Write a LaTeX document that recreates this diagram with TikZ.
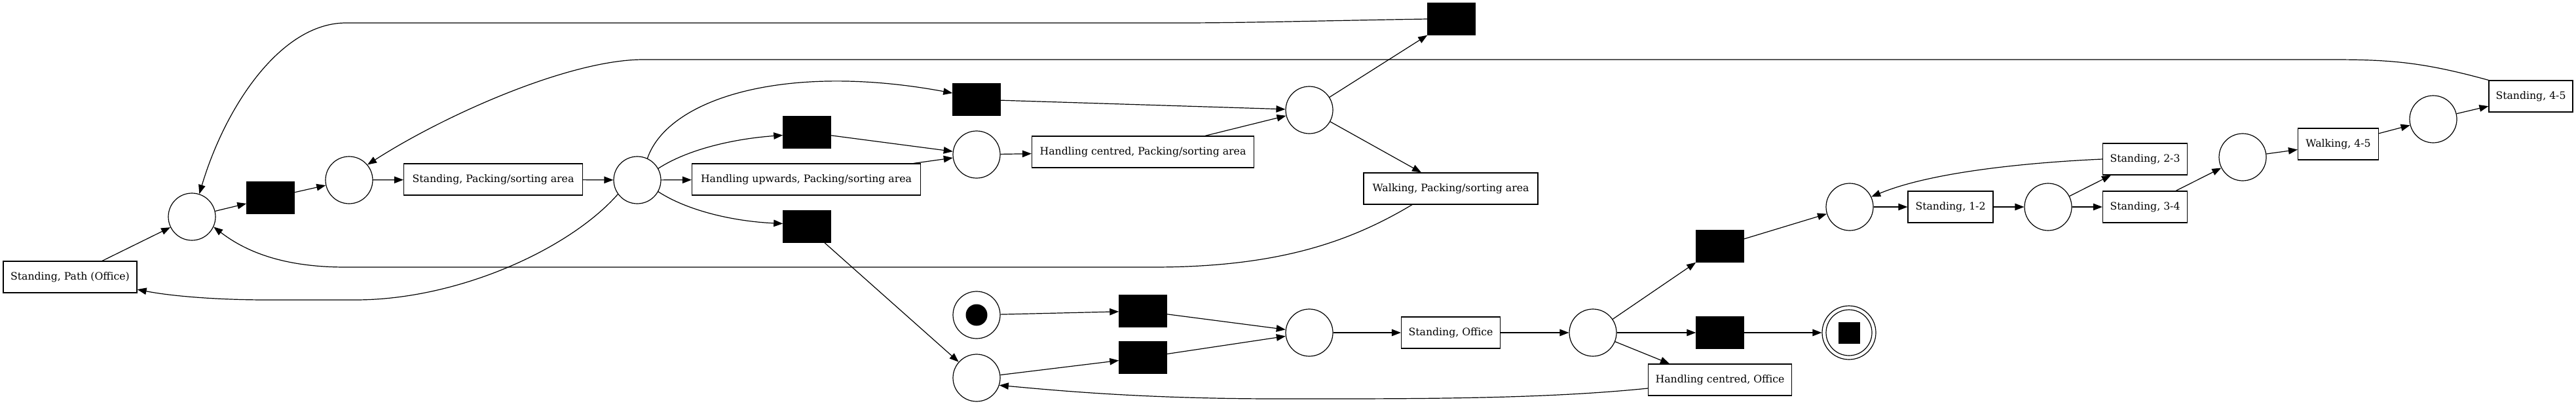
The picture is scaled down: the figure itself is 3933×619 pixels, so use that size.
\documentclass[tikz,border=0pt]{standalone}
\usepackage{fontspec}
\setmainfont{DejaVu Serif}
\usetikzlibrary{arrows.meta}
\begin{document}
\begin{tikzpicture}[x=1pt,y=-1pt,
  every path/.style={line width=1.2pt},
  place/.style={circle, draw, line width=1.2pt, minimum size=72pt, inner sep=0pt},
  trans/.style={rectangle, fill=black, draw=black, line width=0.5pt, minimum width=73pt, minimum height=49pt, inner sep=0pt},
  act/.style={rectangle, draw, line width=1.2pt, minimum height=48pt, inner xsep=9pt, inner ysep=0pt, font=\fontsize{15.7}{18}\selectfont},
  arr/.style={-{Triangle[length=14pt,width=10.5pt]}, line width=1.2pt}]
\useasboundingbox (0,0) rectangle (3933,619);
\fill[white] (0,0) rectangle (3933,619);
% places
\node[place] (P1) at (293,331) {};
\node[place] (P2) at (533,275) {};
\node[place] (P3) at (973,275) {};
\node[place] (P4) at (1491,236) {};
\node[place] (P5) at (1999,168) {};
\node[place] (Pi) at (1491,481) {};
\node[circle, fill=black, minimum size=33pt, inner sep=0pt] (tok) at (Pi) {};
\node[place] (P6) at (1491,577) {};
\node[place] (P7) at (1999,508) {};
\node[place] (P9) at (2432,508) {};
\node[place, minimum size=82pt] (Pf) at (2823,508) {};
\node[circle, draw, line width=1.2pt, minimum size=70pt, inner sep=0pt] (Pfi) at (Pf) {};
\node[rectangle, fill=black, minimum size=33pt, inner sep=0pt] (Pfs) at (Pf) {};
\node[place] (P8) at (2824,316) {};
\node[place] (P10) at (3127,316) {};
\node[place] (P11) at (3424,240) {};
\node[place] (P12) at (3715,182) {};
% silent transitions
\node[trans] (T1) at (413,302) {};
\node[trans] (Ta) at (1491,152) {};
\node[trans] (Tb) at (1232,202) {};
\node[trans] (Tc) at (1232,346) {};
\node[trans] (Tt) at (2216,29) {};
\node[trans] (Td) at (1745,475) {};
\node[trans] (Te) at (1745,546) {};
\node[trans] (Tf) at (2626,376) {};
\node[trans] (Tg) at (2626,508) {};
% labelled transitions
\node[act, minimum width=204pt] (SPO) at (107,423) {Standing, Path (Office)};
\node[act, minimum width=273pt] (SPack) at (753,274) {Standing, Packing/sorting area};
\node[act, minimum width=349pt] (HUp) at (1231,274) {Handling upwards, Packing/sorting area};
\node[act, minimum width=339pt] (HCP) at (1745,232) {Handling centred, Packing/sorting area};
\node[act, minimum width=266pt] (WPack) at (2215,288) {Walking, Packing/sorting area};
\node[act, minimum width=151pt] (SOff) at (2215,508) {Standing, Office};
\node[act, minimum width=219pt] (HCO) at (2626,580) {Handling centred, Office};
\node[act, minimum width=130pt] (S12) at (2978,316) {Standing, 1-2};
\node[act, minimum width=129pt] (S23) at (3275,243) {Standing, 2-3};
\node[act, minimum width=129pt] (S34) at (3275,316) {Standing, 3-4};
\node[act, minimum width=123pt] (W45) at (3570,220) {Walking, 4-5};
\node[act, minimum width=128pt] (S45) at (3864,147) {Standing, 4-5};
% arcs
\draw[arr] ([xshift=49pt]SPO.north) -- (P1);
\draw[arr] (P1) -- (T1);
\draw[arr] (T1) -- (P2);
\draw[arr] (P2) -- (SPack);
\draw[arr] (SPack) -- (P3);
\draw[arr] (P3.65) .. controls (1020,150) and (1200,95) .. (Ta.165);
\draw[arr] (P3.29) .. controls (1050,228) and (1120,212) .. (Tb.187);
\draw[arr] (P3) -- (HUp);
\draw[arr] (P3.-29) .. controls (1050,322) and (1120,338) .. (Tc.173);
\draw[arr] (P3.216) .. controls (870,380) and (700,458) .. (542,458) -- (408,458) .. controls (330,458) and (260,452) .. ([yshift=-19pt]SPO.east);
\draw[arr] (Tb) -- (P4);
\draw[arr] ([xshift=164pt]HUp.north) -- (P4);
\draw[arr] (P4) -- (HCP);
\draw[arr] (Ta) -- (P5);
\draw[arr] ([xshift=95pt]HCP.north) -- (P5);
\draw[arr] (P5) -- (Tt.south west);
\draw[arr] (P5) -- ([xshift=-45pt]WPack.north);
\draw[arr] (Tt.west) .. controls (2000,32) and (1900,35) .. (1800,35) -- (528,35) .. controls (430,35) and (345,160) .. (P1.72);
\draw[arr] ([xshift=-59pt]WPack.south) .. controls (2060,370) and (1950,408) .. (1760,408) -- (528,408) .. controls (440,408) and (380,388) .. (P1.-25);
\draw[arr] ([xshift=27pt]Tc.south) -- (P6);
\draw[arr] (Pi) -- (Td);
\draw[arr] (P6) -- (Te);
\draw[arr] (Td) -- (P7);
\draw[arr] (Te) -- (P7);
\draw[arr] (P7) -- (SOff);
\draw[arr] (SOff) -- (P9);
\draw[arr] (P9) -- (Tf.south west);
\draw[arr] (P9) -- (Tg);
\draw[arr] (P9) -- ([xshift=-77pt]HCO.north);
\draw[arr] (Tg) -- (Pf);
\draw[arr] ([yshift=-13pt]HCO.west) .. controls (2350,610) and (2150,609) .. (1950,609) .. controls (1750,609) and (1620,597) .. (P6.-18);
\draw[arr] (Tf) -- (P8);
\draw[arr] (P8) -- (S12);
\draw[arr] (S12) -- (P10);
\draw[arr] (P10) -- ([xshift=-52pt]S23.south);
\draw[arr] (P10) -- (S34);
\draw[arr] (S23.west) .. controls (3100,248) and (2950,262) .. (P8.25);
\draw[arr] ([xshift=47pt]S34.north) -- (P11);
\draw[arr] (P11) -- (W45);
\draw[arr] (W45) -- (P12);
\draw[arr] (P12) -- (S45);
\draw[arr] (S45.north west) .. controls (3700,95) and (3650,91) .. (3560,91) -- (982,91) .. controls (870,91) and (680,175) .. (P2.40);
\end{tikzpicture}
\end{document}
